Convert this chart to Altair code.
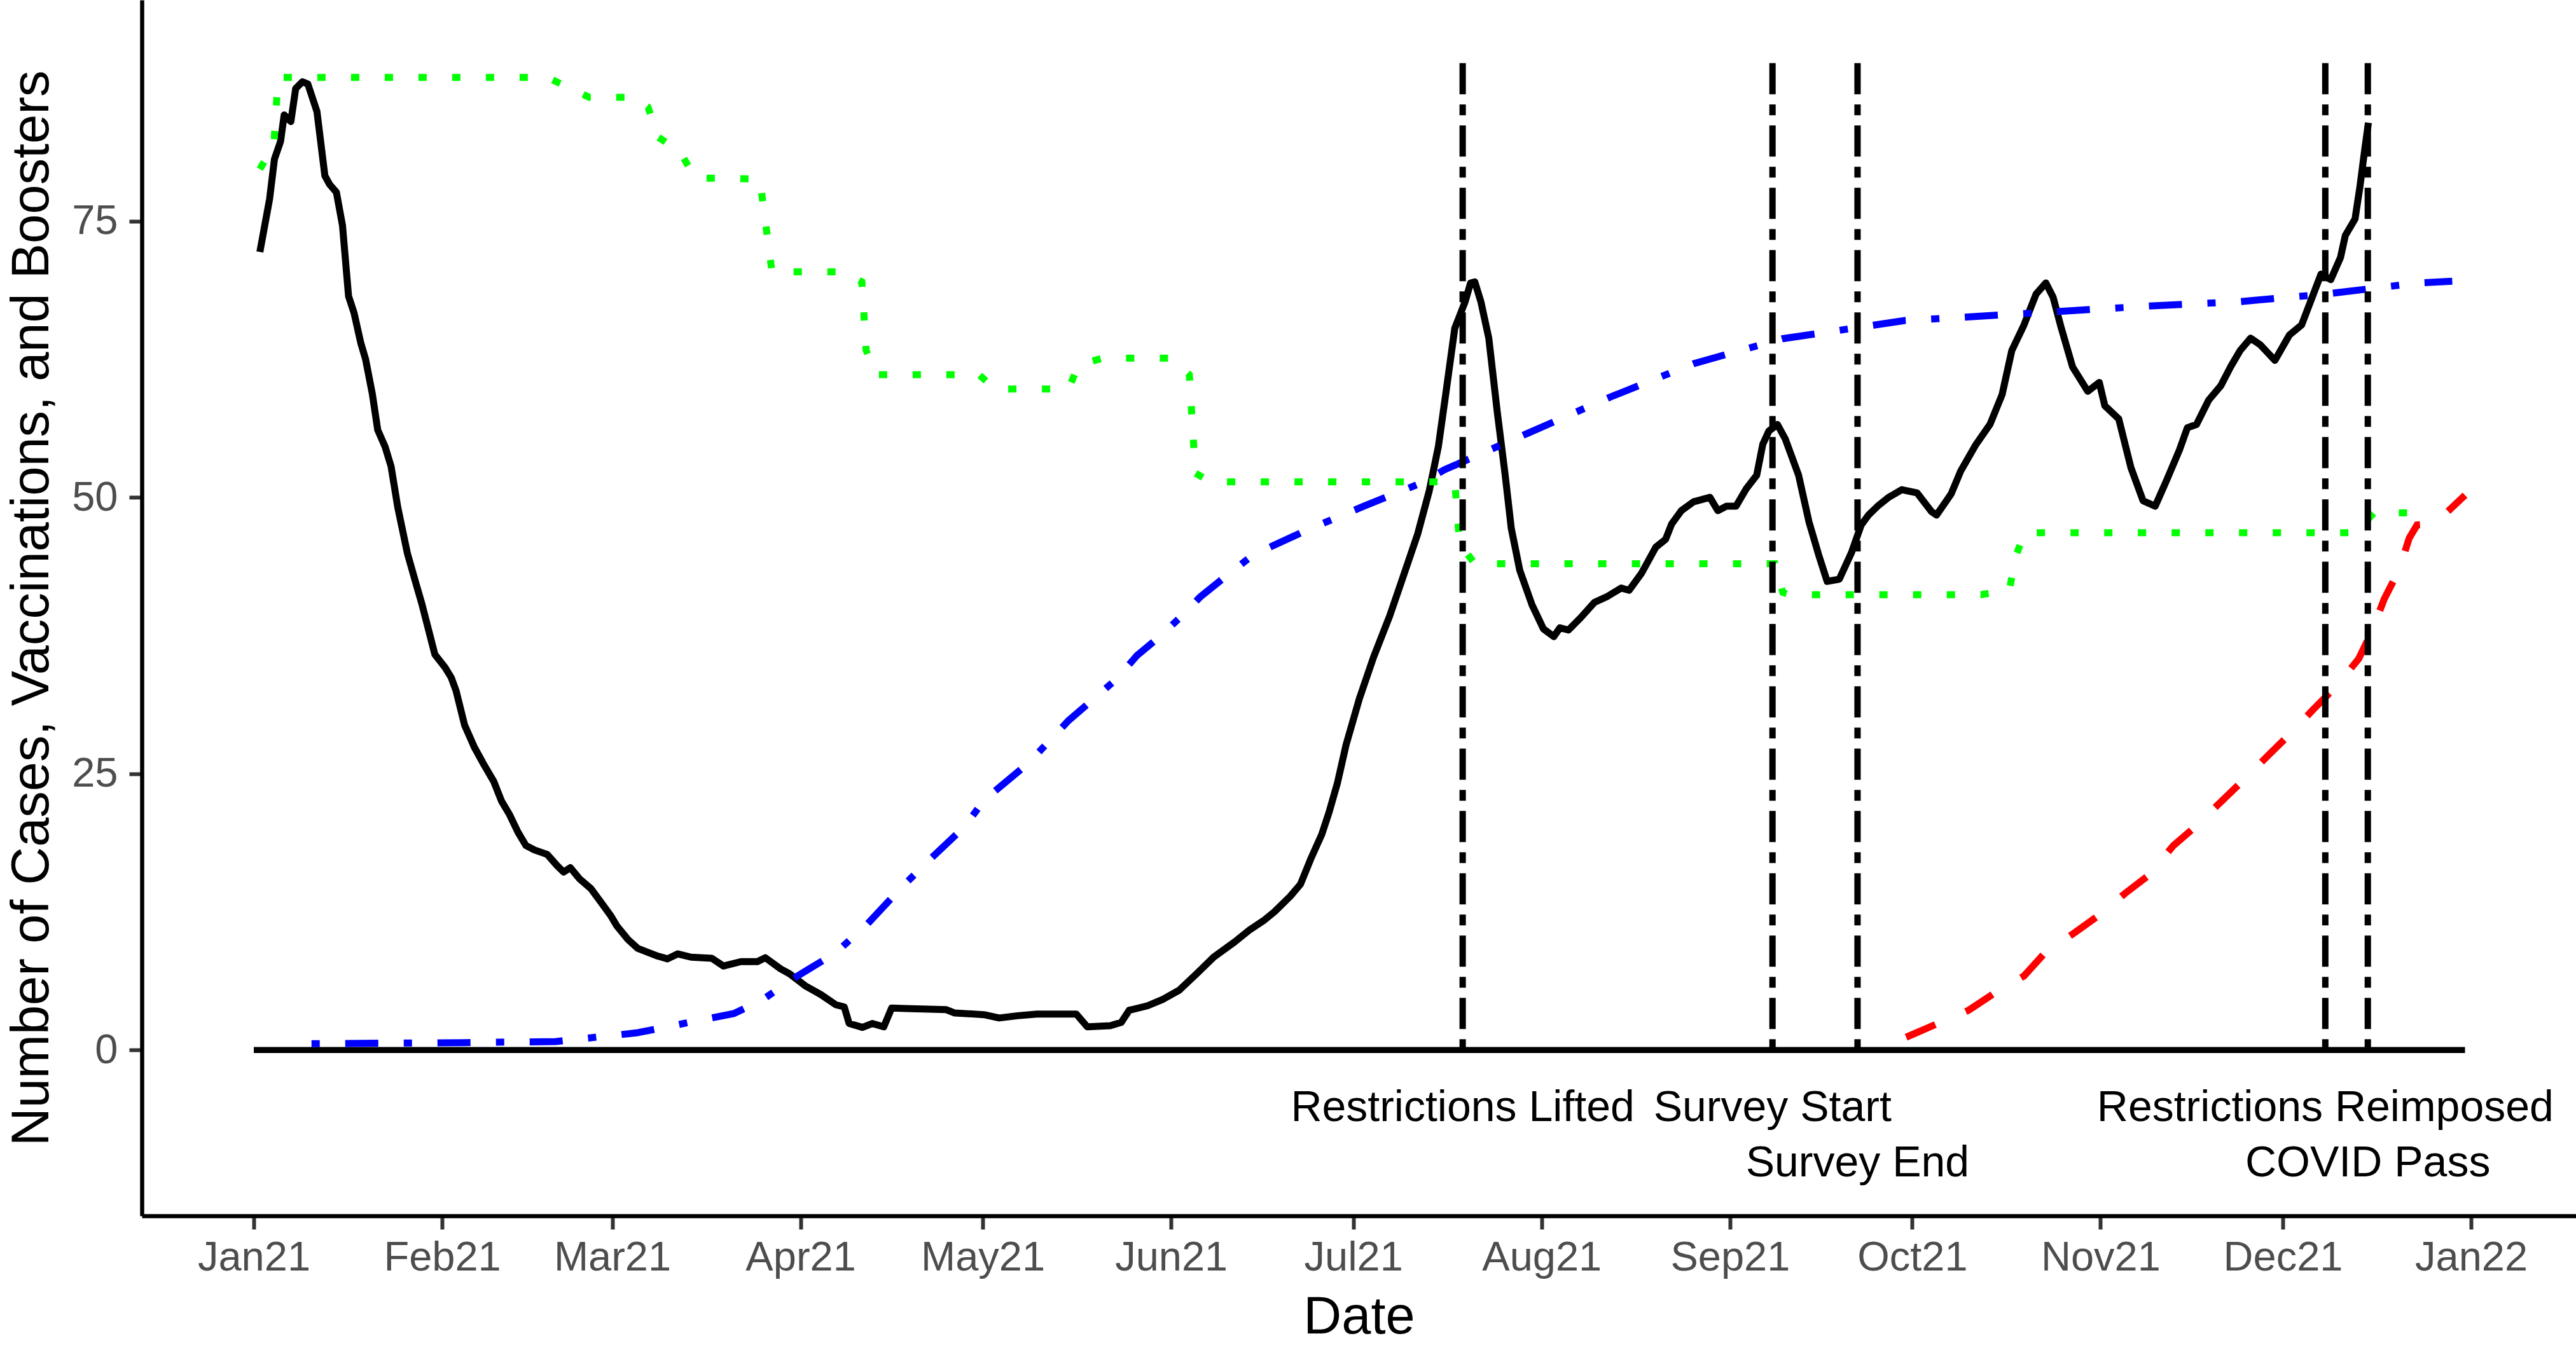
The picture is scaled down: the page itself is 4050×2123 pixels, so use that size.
import altair as alt
import pandas as pd
from datetime import datetime, timedelta

START = datetime(2021, 1, 1)

# ---- data (days after 2021-01-01, values) ----
case_days = [1.0, 2.6, 3.4, 4.4, 5.0, 6.1, 6.9, 8.0, 8.9, 10.4, 11.7, 12.5, 13.6, 14.6, 15.6, 16.5,
             17.6, 18.4, 19.5, 20.4, 21.6, 22.6, 23.7, 25.3, 26.7, 27.7, 29.1, 29.8, 31.5, 32.5, 33.3,
             34.7, 36.3, 37.9, 39.5, 40.8, 42.1, 43.5, 44.8, 46.2, 48.3, 49.9, 51.0, 52.1, 53.6, 55.5,
             57.1, 58.7, 59.8, 61.6, 63.2, 66.5, 68.1, 69.8, 72.0, 75.4, 77.3, 80.2, 82.9, 84.2, 86.7,
             88.2, 90.8, 93.4, 95.8, 97.2, 98.0, 100.2, 101.8, 103.7, 105.0, 107.3, 114.0, 115.4, 120.2,
             122.7, 125.7, 128.9, 135.4, 137.2, 141.0, 142.8, 144.1, 147.1, 149.7, 152.3, 155.4, 158.0,
             161.5, 164.0, 166.2, 168.0, 170.6, 172.3, 174.0, 175.8, 177.0, 178.4, 179.8, 182.0, 184.3,
             187.0, 189.0, 191.6, 193.5, 195.0, 196.2, 197.7, 199.4, 200.3, 201.0, 202.0, 203.3, 204.7,
             206.0, 207.0, 208.4, 210.4, 212.3, 214.0, 215.0, 216.4, 218.4, 220.7, 222.7, 225.1, 226.4,
             228.4, 230.8, 232.4, 233.4, 235.0, 237.0, 239.7, 241.0, 242.4, 244.0, 245.7, 247.4, 248.4,
             249.4, 250.8, 252.1, 254.3, 256.0, 257.6, 259.0, 261.0, 263.0, 264.6, 265.8, 267.3, 269.1,
             271.3, 273.8, 276.2, 277.0, 279.4, 281.0, 283.4, 285.8, 287.8, 289.4, 291.4, 293.4, 295.0,
             296.2, 297.5, 299.4, 301.9, 303.8, 304.7, 307.0, 309.0, 311.0, 313.0, 315.0, 317.0, 318.3,
             319.8, 321.8, 323.8, 325.5, 327.0, 328.7, 330.3, 332.7, 335.1, 337.1, 338.7, 340.3, 341.9,
             343.5, 344.3, 345.9, 346.7, 347.5, 348.1]
case_values = [72.2, 77.0, 80.6, 82.2, 84.6, 84.0, 87.0, 87.6, 87.4, 84.9, 79.1, 78.3, 77.6, 74.6, 68.2, 66.7,
               64.0, 62.5, 59.4, 56.1, 54.6, 52.8, 49.1, 44.9, 42.2, 40.3, 37.3, 35.8, 34.6, 33.7, 32.5,
               29.4, 27.4, 25.8, 24.3, 22.5, 21.3, 19.7, 18.5, 18.1, 17.7, 16.7, 16.1, 16.5, 15.5, 14.6,
               13.4, 12.2, 11.2, 10.0, 9.2, 8.5, 8.25, 8.7, 8.4, 8.3, 7.6, 8.0, 8.0, 8.35, 7.35,
               6.9, 5.8, 5.0, 4.1, 3.9, 2.4, 2.05, 2.4, 2.1, 3.8, 3.75, 3.65, 3.35, 3.2,
               2.9, 3.1, 3.25, 3.25, 2.1, 2.2, 2.5, 3.6, 4.0, 4.6, 5.4, 7.0, 8.4,
               9.8, 10.9, 11.7, 12.5, 13.9, 15.0, 17.3, 19.5, 21.5, 24.2, 27.6, 31.8, 35.5,
               39.3, 42.5, 46.7, 50.6, 54.6, 59.3, 65.3, 67.7, 69.4, 69.5, 67.7, 64.4, 57.7,
               52.0, 47.2, 43.4, 40.3, 38.1, 37.4, 38.2, 38.0, 39.1, 40.5, 41.0, 41.8, 41.6,
               43.1, 45.5, 46.2, 47.6, 48.8, 49.6, 50.0, 48.8, 49.2, 49.2, 50.8, 52.0, 54.8,
               56.0, 56.6, 55.3, 52.0, 47.8, 44.8, 42.4, 42.6, 45.0, 47.5, 48.4, 49.2, 50.0,
               50.7, 50.4, 48.7, 48.4, 50.3, 52.4, 54.7, 56.6, 59.3, 63.3, 65.6, 68.4, 69.4,
               68.1, 65.4, 61.8, 59.6, 60.4, 58.3, 57.1, 52.7, 49.7, 49.2, 51.7, 54.3, 56.3,
               56.6, 58.8, 60.1, 61.9, 63.3, 64.4, 63.8, 62.4, 64.7, 65.6, 67.9, 70.2, 69.7,
               71.7, 73.7, 75.2, 78.1, 81.5, 83.9]

vacc_days = [9.5, 34.5, 49.7, 63.0, 79.0, 83.6, 89.5, 95.8, 101.0, 106.6, 111.4, 117.0, 120.2, 127.6,
             134.1, 141.9, 145.4, 148.9, 153.2, 155.8, 160.1, 164.5, 173.2, 182.7, 192.2, 196.0, 209.7,
             223.4, 237.0, 251.6, 271.8, 281.4, 311.5, 326.7, 341.1, 356.3, 361.9]
vacc_values = [0.57, 0.67, 0.77, 1.55, 3.3, 4.5, 6.7, 8.8, 11.4, 14.7, 17.3, 20.2, 22.6, 26.0,
               29.8, 33.5, 35.7, 37.3, 39.5, 41.0, 42.9, 44.8, 47.0, 49.2, 51.3, 52.5, 55.8,
               59.1, 62.1, 64.35, 66.0, 66.3, 67.3, 67.7, 68.4, 69.4, 69.55]

boost_days = [272.0, 276.8, 282.3, 286.4, 291.4, 294.7, 299.7, 303.5, 308.1, 311.9, 316.0, 319.4, 323.9,
              327.3, 331.5, 335.2, 339.0, 342.8, 346.5, 348.6, 350.7, 353.2, 354.8, 356.1, 359.0, 364.0]
boost_values = [1.16, 2.3, 3.6, 5.1, 6.7, 8.7, 10.6, 12.1, 14.2, 15.8, 18.5, 20.1, 22.5,
                24.3, 26.6, 28.6, 30.8, 32.9, 35.4, 37.8, 40.8, 43.5, 46.3, 47.5, 47.6, 50.2]

string_days = [1.0, 3.3, 4.0, 48.3, 55.2, 62.7, 64.9, 66.5, 70.0, 72.7, 83.3, 85.3, 96.8, 100.1, 100.8,
               102.4, 119.4, 122.0, 134.1, 135.8, 139.8, 151.0, 154.0, 155.0, 157.5, 197.7, 198.5, 201.0,
               250.4, 251.7, 253.0, 284.3, 289.0, 290.0, 291.5, 346.0, 349.0, 355.0]
string_values = [79.7, 81.9, 88.0, 88.0, 86.2, 86.2, 85.3, 82.6, 81.4, 78.9, 78.8, 70.4, 70.4, 69.5, 63.3,
                 61.1, 61.1, 59.8, 59.8, 62.0, 62.6, 62.6, 61.1, 52.2, 51.4, 51.4, 45.8, 44.0,
                 44.0, 41.4, 41.2, 41.2, 41.6, 44.6, 46.8, 46.8, 48.6, 48.6]

event_dates = ["2021-07-19", "2021-09-08", "2021-09-22", "2021-12-08", "2021-12-15"]
event_labels = ["Restrictions Lifted", "Survey Start", "Survey End", "Restrictions Reimposed", "COVID Pass"]
event_label_y = [-5, -5, -10, -5, -10]
event_line_top = 90
baseline_span = ["2021-01-01", "2021-12-31"]

month_ticks = [(2021, m) for m in range(1, 13)] + [(2022, 1)]
y_ticks = [0, 25, 50, 75]

FONT = "Liberation Sans"


def stamp(day):
    return (START + timedelta(days=day)).strftime("%Y-%m-%dT%H:%M:%SZ")


def frame(days, values):
    return pd.DataFrame({"date": [stamp(d) for d in days], "value": values})


x_scale = alt.Scale(
    type="utc",
    domain=[alt.DateTime(year=2020, month=12, date=13, hours=13, minutes=41, utc=True),
            alt.DateTime(year=2022, month=1, date=18, hours=6, minutes=29, utc=True)],
    nice=False,
)
y_scale = alt.Scale(domain=[-15, 95], nice=False, zero=False)

x_axis = alt.Axis(
    values=[alt.DateTime(year=y, month=m, date=1, utc=True) for (y, m) in month_ticks],
    labelExpr="utcFormat(datum.value, '%b%y')",
    labelFont=FONT, labelFontSize=65, labelColor="#4D4D4D", labelPadding=13,
    labelFlush=False, labelOverlap=False, labelLimit=0,
    tickSize=21, tickWidth=6, tickColor="#333333",
    domainColor="#000000", domainWidth=6.5, grid=False,
    titleFont=FONT, titleFontSize=83, titleFontWeight="normal", titleColor="#000000",
    titleX=1913.5, titleY=159, titleAlign="center", titleBaseline="middle", titleLimit=0,
)
y_axis = alt.Axis(
    values=y_ticks,
    labelFont=FONT, labelFontSize=65, labelColor="#4D4D4D", labelPadding=18, labelLimit=0,
    tickSize=20, tickWidth=6, tickColor="#333333",
    domainColor="#000000", domainWidth=6.5, grid=False,
    titleFont=FONT, titleFontSize=83, titleFontWeight="normal", titleColor="#000000",
    titleAngle=270, titleX=-173, titleY=956, titleAlign="center", titleBaseline="middle",
    titleLimit=0,
)

X_TITLE = "Date"
Y_TITLE = "Number of Cases, Vaccinations, and Boosters"


def xenc():
    return alt.X("date:T", scale=x_scale, axis=x_axis, title=X_TITLE)


def yenc():
    return alt.Y("value:Q", scale=y_scale, axis=y_axis, title=Y_TITLE)


base_df = pd.DataFrame({"date": [baseline_span[0] + "T00:00:00Z"],
                        "date_end": [baseline_span[1] + "T00:00:00Z"],
                        "value": [0]})
baseline = alt.Chart(base_df).mark_rule(color="#000000", strokeWidth=9.5).encode(
    x=xenc(), x2="date_end:T", y=yenc()
)

cases = alt.Chart(frame(case_days, case_values)).mark_line(
    color="#000000", strokeWidth=11, strokeJoin="round"
).encode(x=xenc(), y=yenc())

vacc = alt.Chart(frame(vacc_days, vacc_values)).mark_line(
    color="#0000FF", strokeWidth=11, strokeDash=[13, 40, 52, 40]
).encode(x=xenc(), y=yenc())

boost = alt.Chart(frame(boost_days, boost_values)).mark_line(
    color="#FF0000", strokeWidth=11, strokeDash=[50, 52]
).encode(x=xenc(), y=yenc())

string = alt.Chart(frame(string_days, string_values)).mark_line(
    color="#00FF00", strokeWidth=11, strokeDash=[13, 40]
).encode(x=xenc(), y=yenc())

ev_df = pd.DataFrame({
    "date": [d + "T00:00:00Z" for d in event_dates],
    "value": [0] * len(event_dates),
    "top": [event_line_top] * len(event_dates),
})
vlines = alt.Chart(ev_df).mark_rule(
    color="#000000", strokeWidth=10, strokeDash=[17, 16, 49, 16]
).encode(x=xenc(), y=yenc(), y2="top:Q")

lab_df = pd.DataFrame({
    "date": [d + "T00:00:00Z" for d in event_dates],
    "value": event_label_y,
    "label": event_labels,
})
labels = alt.Chart(lab_df).mark_text(
    font=FONT, fontSize=68, color="#000000", align="center", baseline="middle", dy=5
).encode(x=xenc(), y=yenc(), text="label:N")

chart = alt.layer(baseline, cases, vacc, boost, string, vlines, labels).properties(
    width=3827, height=1912,
    padding={"left": 223, "right": 0, "top": 0, "bottom": 211},
    autosize=alt.AutoSizeParams(type="none"),
).configure_view(stroke=None)

chart.save("out.html", embed_options={"renderer": "svg", "actions": False})
